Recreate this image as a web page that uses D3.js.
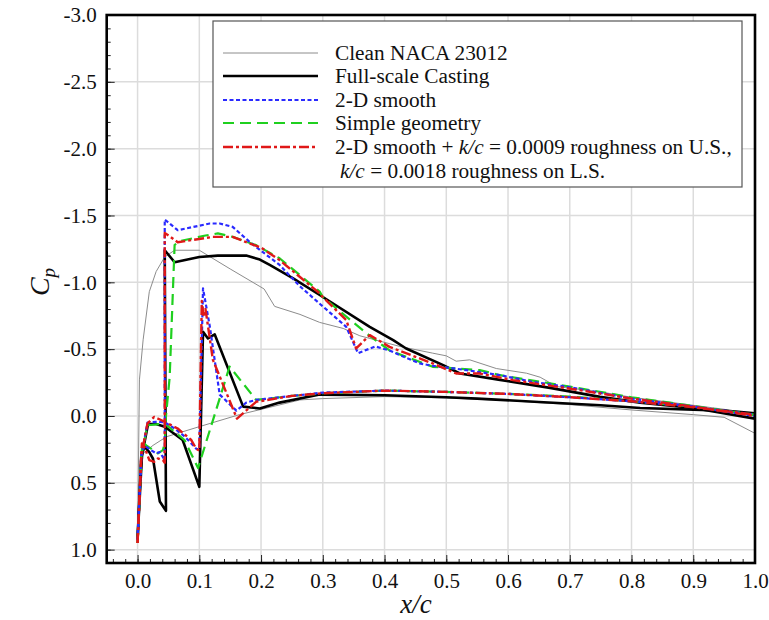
<!DOCTYPE html>
<html>
<head>
<meta charset="utf-8">
<script src="https://cdn.jsdelivr.net/npm/d3@7"></script>
<style>
  body { margin: 0; background: #fff; }
  svg text { font-family: "Liberation Serif", "Times New Roman", serif; fill: #111; }
</style>
</head>
<body>
<svg id="chart" width="769" height="620"></svg>
<script>
// tick labels
const xTicks = [0.0, 0.1, 0.2, 0.3, 0.4, 0.5, 0.6, 0.7, 0.8, 0.9, 1.0];
const yTicks = [-3.0, -2.5, -2.0, -1.5, -1.0, -0.5, 0.0, 0.5, 1.0];

// [x/c, Cp], upper and lower branch of each run
const cleanUpper = [[0,0.95],[0.001,0.55],[0.003,-0.27],[0.009,-0.57],[0.019,-0.93],[0.03,-1.08],[0.044,-1.19],[0.06,-1.24],[0.1,-1.24],[0.15,-1.1],[0.205,-0.95],[0.222,-0.82],[0.263,-0.76],[0.295,-0.7],[0.333,-0.655],[0.36,-0.6],[0.425,-0.52],[0.478,-0.47],[0.5,-0.45],[0.516,-0.41],[0.538,-0.42],[0.581,-0.355],[0.63,-0.32],[0.652,-0.29],[0.679,-0.22],[0.75,-0.18],[0.8,-0.14],[0.9,-0.08],[0.95,-0.05],[1.0,0.0]];
const cleanLower = [[0,0.95],[0.003,0.6],[0.009,0.28],[0.025,0.22],[0.047,0.155],[0.1,0.08],[0.165,-0.01],[0.263,-0.12],[0.3,-0.13],[0.4,-0.145],[0.5,-0.135],[0.6,-0.115],[0.7,-0.085],[0.8,-0.045],[0.9,-0.01],[0.95,0.01],[1.0,0.13]];

const castingUpper = [[0,0.92],[0.006,0.3],[0.011,0.23],[0.019,0.27],[0.025,0.32],[0.036,0.64],[0.046,0.71],[0.044,-1.24],[0.06,-1.15],[0.1,-1.19],[0.13,-1.2],[0.176,-1.2],[0.198,-1.17],[0.214,-1.13],[0.252,-1.03],[0.295,-0.905],[0.376,-0.667],[0.414,-0.567],[0.435,-0.505],[0.495,-0.38],[0.522,-0.318],[0.587,-0.27],[0.668,-0.21],[0.749,-0.143],[0.814,-0.1],[0.9,-0.06],[1.0,0.02]];
const castingLower = [[0,0.92],[0.007,0.3],[0.017,0.06],[0.03,0.06],[0.044,0.08],[0.073,0.18],[0.1,0.53],[0.106,-0.63],[0.114,-0.58],[0.125,-0.61],[0.171,-0.07],[0.198,-0.056],[0.23,-0.1],[0.295,-0.16],[0.4,-0.155],[0.5,-0.14],[0.55,-0.13],[0.65,-0.105],[0.75,-0.08],[0.814,-0.06],[0.95,-0.04],[1.0,-0.02]];

const smoothUpper = [[0,0.93],[0.006,0.3],[0.011,0.22],[0.022,0.256],[0.03,0.28],[0.036,0.27],[0.044,0.33],[0.044,-1.47],[0.065,-1.39],[0.117,-1.44],[0.133,-1.44],[0.154,-1.415],[0.182,-1.3],[0.23,-1.13],[0.263,-0.97],[0.295,-0.84],[0.338,-0.667],[0.357,-0.47],[0.385,-0.52],[0.408,-0.49],[0.425,-0.455],[0.457,-0.393],[0.478,-0.375],[0.533,-0.343],[0.587,-0.305],[0.64,-0.255],[0.7,-0.215],[0.8,-0.13],[0.9,-0.07],[1.0,0.0]];
const smoothLower = [[0,0.93],[0.006,0.3],[0.016,0.05],[0.03,0.044],[0.044,0.047],[0.06,0.094],[0.077,0.156],[0.095,0.245],[0.1,0.25],[0.106,-0.954],[0.117,-0.67],[0.133,-0.16],[0.16,-0.04],[0.176,-0.1],[0.192,-0.12],[0.25,-0.15],[0.3,-0.175],[0.4,-0.19],[0.5,-0.18],[0.6,-0.165],[0.7,-0.14],[0.8,-0.11],[0.9,-0.07],[1.0,-0.01]];

const simpleUpper = [[0,0.95],[0.006,0.3],[0.008,0.194],[0.014,0.22],[0.033,0.28],[0.041,0.256],[0.044,0.2],[0.046,0.0],[0.052,-0.29],[0.06,-1.28],[0.07,-1.31],[0.11,-1.35],[0.13,-1.366],[0.154,-1.34],[0.192,-1.278],[0.23,-1.18],[0.295,-0.93],[0.3,-0.89],[0.345,-0.717],[0.371,-0.617],[0.408,-0.49],[0.478,-0.368],[0.554,-0.343],[0.587,-0.305],[0.7,-0.22],[0.8,-0.14],[0.9,-0.075],[1.0,-0.005]];
const simpleLower = [[0,0.95],[0.006,0.3],[0.016,0.07],[0.044,0.056],[0.076,0.18],[0.098,0.39],[0.149,-0.37],[0.192,-0.12],[0.25,-0.15],[0.3,-0.17],[0.4,-0.19],[0.5,-0.18],[0.6,-0.165],[0.7,-0.145],[0.8,-0.11],[0.9,-0.07],[1.0,-0.01]];

const roughUpper = [[0,0.95],[0.006,0.3],[0.007,0.206],[0.011,0.23],[0.019,0.33],[0.027,0.343],[0.033,0.318],[0.041,0.33],[0.044,0.35],[0.044,-1.37],[0.065,-1.3],[0.122,-1.34],[0.154,-1.34],[0.182,-1.29],[0.2,-1.26],[0.23,-1.166],[0.263,-1.04],[0.295,-0.917],[0.3,-0.89],[0.338,-0.717],[0.354,-0.505],[0.376,-0.605],[0.408,-0.517],[0.478,-0.393],[0.516,-0.318],[0.554,-0.318],[0.608,-0.268],[0.716,-0.193],[0.8,-0.13],[0.9,-0.07],[1.0,0.0]];
const roughLower = [[0,0.95],[0.006,0.3],[0.016,0.056],[0.027,0.007],[0.038,0.03],[0.049,0.056],[0.065,0.094],[0.087,0.18],[0.095,0.245],[0.1,0.26],[0.104,-0.86],[0.107,-0.74],[0.11,-0.8],[0.122,-0.42],[0.161,0.02],[0.192,-0.106],[0.25,-0.15],[0.3,-0.17],[0.4,-0.19],[0.5,-0.18],[0.6,-0.165],[0.7,-0.14],[0.8,-0.11],[0.9,-0.065],[1.0,-0.01]];

const serif = '"Liberation Serif", "Times New Roman", serif';
const svg = d3.select('#chart');
const plotL = 106.7, plotR = 755, plotT = 15, plotB = 563;

const x = d3.scaleLinear().domain([-0.05, 1.0]).range([plotL, plotR]);
const y = d3.scaleLinear().domain([-3.0, 1.1]).range([plotT, plotB]);

// grid
const grid = svg.append('g');
grid.selectAll('line.gx').data(xTicks.filter(d => d < 1)).enter().append('line')
  .attr('x1', d => x(d)).attr('x2', d => x(d)).attr('y1', plotT).attr('y2', plotB)
  .attr('stroke', '#dcdcdc').attr('stroke-width', 1.5);
grid.selectAll('line.gy').data(yTicks.filter(d => d > -3)).enter().append('line')
  .attr('x1', plotL).attr('x2', plotR).attr('y1', d => y(d)).attr('y2', d => y(d))
  .attr('stroke', '#dcdcdc').attr('stroke-width', 1.5);

// axes, ticks pointing inward
const fmt = d => d.toFixed(1);
const xAxis = svg.append('g').attr('transform', `translate(0,${plotB})`)
  .call(d3.axisBottom(x).tickValues(xTicks).tickSize(-8).tickPadding(10).tickFormat(fmt));
const xMinor = svg.append('g').attr('transform', `translate(0,${plotB})`)
  .call(d3.axisBottom(x).tickValues(d3.range(-2, 50).map(i => i * 0.02)).tickSize(-4).tickFormat(''));
const yAxis = svg.append('g').attr('transform', `translate(${plotL},0)`)
  .call(d3.axisLeft(y).tickValues(yTicks).tickSize(-8).tickPadding(10).tickFormat(fmt));
const yMinor = svg.append('g').attr('transform', `translate(${plotL},0)`)
  .call(d3.axisLeft(y).tickValues(d3.range(-30, 11).map(i => i * 0.1)).tickSize(-4).tickFormat(''));

[xAxis, xMinor, yAxis, yMinor].forEach(g => {
  g.select('.domain').remove();
  g.attr('font-family', serif).attr('font-size', 21);
  g.selectAll('line').attr('stroke', '#222').attr('stroke-width', 1);
  g.selectAll('text').style('font-family', serif).style('font-size', '21px').attr('fill', '#111');
});

// series
const line = d3.line().x(d => x(d[0])).y(d => y(d[1]));
const series = [
  { name: 'clean', data: [cleanUpper, cleanLower], color: '#8c8c8c', width: 1, dash: null },
  { name: 'casting', data: [castingUpper, castingLower], color: '#000', width: 2.6, dash: null },
  { name: 'simple', data: [simpleUpper, simpleLower], color: '#1fd01f', width: 2.2, dash: '11,6' },
  { name: 'smooth', data: [smoothUpper, smoothLower], color: '#2a2aff', width: 2.2, dash: '4,2.5' },
  { name: 'rough', data: [roughUpper, roughLower], color: '#e01818', width: 2.4, dash: '10,3,3,3' }
];
const plot = svg.append('g');
series.forEach(s => {
  s.data.forEach(arr => {
    plot.append('path').datum(arr).attr('d', line)
      .attr('fill', 'none').attr('stroke', s.color).attr('stroke-width', s.width)
      .attr('stroke-dasharray', s.dash).attr('stroke-linejoin', 'round');
  });
});

// frame
svg.append('rect').attr('x', plotL).attr('y', plotT).attr('width', plotR - plotL).attr('height', plotB - plotT)
  .attr('fill', 'none').attr('stroke', '#000').attr('stroke-width', 2.6);

// legend
const lg = svg.append('g');
lg.append('rect').attr('x', 213).attr('y', 21).attr('width', 529).attr('height', 166)
  .attr('fill', '#fff').attr('stroke', '#555').attr('stroke-width', 1.2);
const legendRows = [
  { s: series[0], y: 53, label: [['Clean NACA 23012', false]] },
  { s: series[1], y: 76, label: [['Full-scale Casting', false]] },
  { s: series[3], y: 100, label: [['2-D smooth', false]] },
  { s: series[2], y: 123, label: [['Simple geometry', false]] },
  { s: series[4], y: 147, label: [['2-D smooth + ', false], ['k/c', true], [' = 0.0009 roughness on U.S.,', false]] },
  { s: null, y: 171, label: [['k/c', true], [' = 0.0018 roughness on L.S.', false]], indent: 5 }
];
legendRows.forEach(r => {
  if (r.s) {
    lg.append('line').attr('x1', 223).attr('x2', 318).attr('y1', r.y).attr('y2', r.y)
      .attr('stroke', r.s.color).attr('stroke-width', r.s.width).attr('stroke-dasharray', r.s.dash);
  }
  const t = lg.append('text').attr('x', 335 + (r.indent || 0)).attr('y', r.y + 7).style('font-size', '21.3px');
  r.label.forEach(p => t.append('tspan').text(p[0]).style('font-style', p[1] ? 'italic' : 'normal'));
});

// axis titles
svg.append('text').attr('x', 416).attr('y', 613).attr('text-anchor', 'middle')
  .style('font-size', '27px').style('font-style', 'italic').text('x/c');
const cp = svg.append('text').attr('transform', 'translate(49,282) rotate(-90)').attr('text-anchor', 'middle')
  .style('font-size', '28px').style('font-style', 'italic');
cp.append('tspan').text('C');
cp.append('tspan').attr('dy', 6).style('font-size', '19px').text('p');
</script>
</body>
</html>
